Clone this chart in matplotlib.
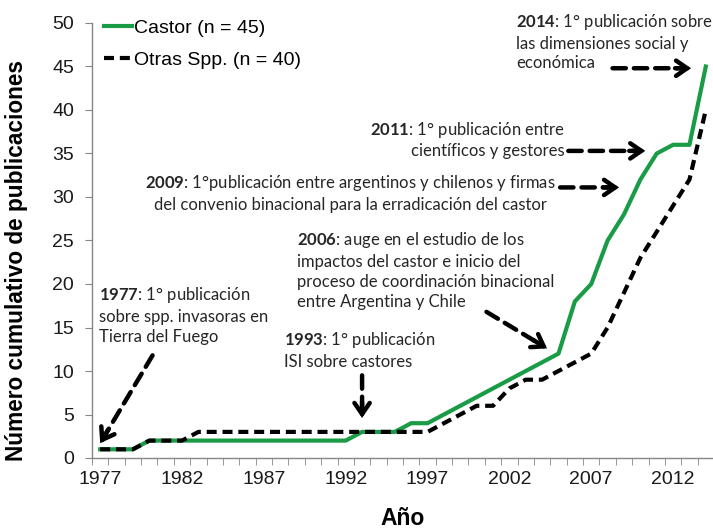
import numpy as np
import matplotlib
matplotlib.use("Agg")
import matplotlib.pyplot as plt

# cumulative publications per year
years = np.arange(1977, 2015)
castor = [1, 1, 1, 2, 2, 2, 2, 2, 2, 2, 2, 2, 2, 2, 2, 2, 3, 3, 3, 4, 4,
          5, 6, 7, 8, 9, 10, 11, 12, 18, 20, 25, 28, 32, 35, 36, 36, 45]
otras = [1, 1, 1, 2, 2, 2, 3, 3, 3, 3, 3, 3, 3, 3, 3, 3, 3, 3, 3, 3, 3,
         4, 5, 6, 6, 8, 9, 9, 10, 11, 12, 15, 19, 23, 26, 29, 32, 40]
xticks = [1977, 1982, 1987, 1992, 1997, 2002, 2007, 2012]

plt.rcParams['mathtext.fontset'] = 'custom'
plt.rcParams['mathtext.rm'] = 'Lato'
plt.rcParams['mathtext.bf'] = 'Lato:bold'

green = '#1a9c47'
grey = '#868686'
txtc = '#262626'

fig = plt.figure(figsize=(7.13, 5.31), dpi=100)
ax = fig.add_axes([92 / 713, 73 / 531, 622 / 713, 435 / 531])

ax.plot(years, castor, color=green, lw=3, label='Castor (n = 45)', zorder=3)
ax.plot(years, otras, color='k', lw=3, ls=(0, (2.4, 1.4)), label='Otras Spp. (n = 40)', zorder=4)

ax.set_xlim(1976.5, 2014.5)
ax.set_ylim(0, 50)
ax.set_yticks(np.arange(0, 51, 5))
ax.set_xticks(xticks)
ax.set_xticks(np.arange(1976.5, 2015, 1), minor=True)
ax.tick_params(axis='x', which='major', length=0, pad=9)
ax.tick_params(axis='x', which='minor', length=5, color=grey, direction='out')
ax.tick_params(axis='y', length=5, color=grey, direction='out', pad=8)
for lab in ax.get_xticklabels() + ax.get_yticklabels():
    lab.set_fontfamily('Liberation Sans')
    lab.set_fontsize(14)
    lab.set_color('#1a1a1a')
for s in ['top', 'right']:
    ax.spines[s].set_visible(False)
for s in ['left', 'bottom']:
    ax.spines[s].set_color(grey)
    ax.spines[s].set_linewidth(1)

ax.set_xlabel('Año', fontfamily='Liberation Sans', fontweight='bold', fontsize=16.5, labelpad=14)
ax.set_ylabel('Número cumulativo de publicaciones', fontfamily='Liberation Sans',
              fontweight='bold', fontsize=16.3)
ax.yaxis.set_label_coords(-0.103, 0.455)

leg = ax.legend(loc='upper left', bbox_to_anchor=(0.0, 1.035), frameon=False,
                prop={'family': 'Liberation Sans', 'size': 14}, handlelength=1.45,
                handletextpad=0.1, labelspacing=0.75, borderaxespad=0.2)

# annotations
tkw = dict(fontfamily='Lato', fontsize=12, color=txtc, linespacing=1.3, va='top', clip_on=False)
ax.text(1976.9, 19.9, '$\\mathbf{1977}$: 1° publicación\nsobre spp. invasoras en\nTierra del Fuego', ha='left', **tkw)
ax.text(1988.2, 14.7, '$\\mathbf{1993}$: 1° publicación\nISI sobre castores', ha='left', **tkw)
ax.text(1989.0, 26.2, '$\\mathbf{2006}$: auge en el estudio de los\nimpactos del castor e inicio del\n'
        'proceso de coordinación binacional\nentre Argentina y Chile', ha='left', **tkw)
ax.text(1992.3, 32.8, '$\\mathbf{2009}$: 1°publicación entre argentinos y chilenos y firmas\n'
        'del convenio binacional para la erradicación del castor', ha='center', **tkw)
ax.text(2005.4, 38.9, '$\\mathbf{2011}$: 1° publicación entre\ncientíficos y gestores', ha='right',
        multialignment='right', **tkw)
ax.text(2002.4, 51.3, '$\\mathbf{2014}$: 1° publicación sobre\nlas dimensiones social y\neconómica', ha='left', **tkw)

arrows = [((1980.2, 11.8), (1977.0, 1.7)),
          ((1993.0, 9.5), (1993.0, 4.6)),
          ((2000.6, 16.8), (2004.3, 12.6)),
          ((2005.1, 31.1), (2008.7, 31.1)),
          ((2005.6, 35.3), (2010.3, 35.3)),
          ((2008.3, 44.8), (2013.1, 44.8))]

fig.canvas.draw()
for tail, tip in arrows:
    p0 = ax.transData.transform(tail)
    p1 = ax.transData.transform(tip)
    d = (p1 - p0) / np.hypot(*(p1 - p0))
    ax.annotate('', xy=tip, xytext=tail,
                arrowprops=dict(arrowstyle='-', lw=3.2, ls=(0, (3, 1.8)), color='k',
                                shrinkA=0, shrinkB=6), annotation_clip=False, zorder=5)
    ax.annotate('', xy=tip, xytext=tuple(-d * 16), textcoords='offset pixels',
                arrowprops=dict(arrowstyle='->,head_length=0.8,head_width=0.55', lw=3.2, color='k',
                                shrinkA=0, shrinkB=0, joinstyle='miter'),
                annotation_clip=False, zorder=5)

fig.savefig('out.png', dpi=100)
